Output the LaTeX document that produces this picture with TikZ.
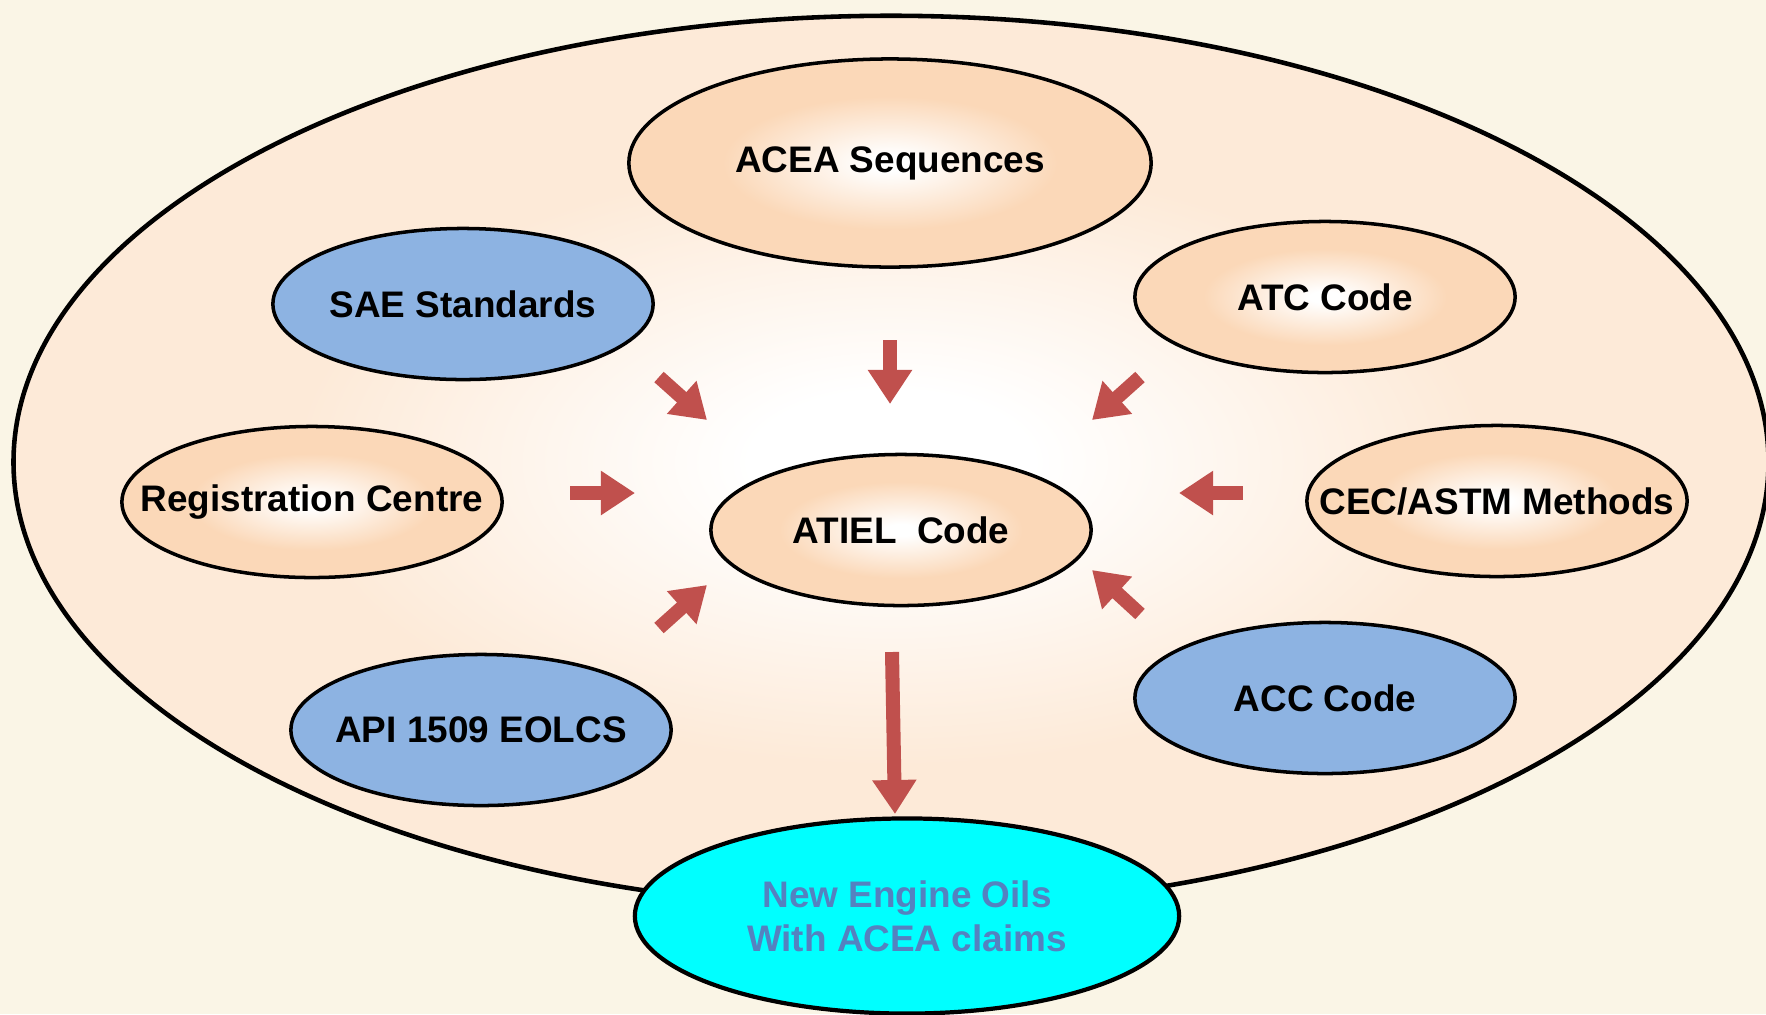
\documentclass[tikz,border=0pt]{standalone}
\usepackage{fontspec}
\setmainfont{Liberation Sans}
\usetikzlibrary{shapes.geometric,arrows.meta}
\definecolor{bgc}{RGB}{250,245,230}
\definecolor{bigedge}{RGB}{253,234,216}
\definecolor{peachedge}{RGB}{251,216,184}
\definecolor{bluefill}{RGB}{141,179,226}
\definecolor{arrowred}{RGB}{192,80,77}
\definecolor{oiltext}{RGB}{84,130,192}
\definecolor{cyanfill}{RGB}{0,255,255}
\pgfdeclareradialshading{bigshade}{\pgfpoint{0bp}{0bp}}{color(0bp)=(white); color(4bp)=(white); color(17bp)=(bigedge); color(50bp)=(bigedge)}
\pgfdeclareradialshading{peachshade}{\pgfpoint{0bp}{0bp}}{color(0bp)=(white); color(2bp)=(white); color(16bp)=(peachedge); color(50bp)=(peachedge)}
\newcommand\zbox[1]{\makebox[0pt]{#1}}
\tikzset{
  txt/.style={font=\fontsize{10.5}{12.6}\selectfont\bfseries},
  oval/.style={ellipse, draw=black, line width=1pt, inner sep=0pt, txt, minimum width=3.8cm, minimum height=1.51cm},
  peach/.style={oval, shading=peachshade},
  blue/.style={oval, fill=bluefill},
  blockarrow/.style={draw=arrowred, line width=0.14cm, -{Triangle[width=0.42cm,length=0.34cm]}, arrowred}
}
\begin{document}
\begin{tikzpicture}[x=0.01cm,y=-0.01cm]
\useasboundingbox (0,0) rectangle (1766,1014);
\clip (0,0) rectangle (1766,1014);
\fill[bgc] (0,0) rectangle (1766,1014);
\node[ellipse, draw=black, line width=1.3pt, shading=bigshade, minimum width=17.54cm, minimum height=8.92cm, inner sep=0pt] (outer) at (891,462) {};
\node[peach, minimum width=5.22cm, minimum height=2.08cm] (acea) at (890,163) {\zbox{ACEA Sequences}};
\node[blue] (sae) at (463,304) {\zbox{SAE Standards}};
\node[peach] (atc) at (1325,297) {\zbox{ATC Code}};
\node[peach] (reg) at (312,502) {\zbox{Registration Centre}};
\node[peach] (atiel) at (901,530) {\zbox{ATIEL\ \ Code}};
\node[peach] (cec) at (1497,501) {\zbox{CEC/ASTM Methods}};
\node[blue] (api) at (481,730) {\zbox{API 1509 EOLCS}};
\node[blue] (acc) at (1325,698) {\zbox{ACC Code}};
\node[ellipse, draw=black, line width=1.2pt, fill=cyanfill, inner sep=0pt, minimum width=5.44cm, minimum height=1.95cm, txt, text=oiltext, align=center] (oil) at (907,916) {New Engine Oils\\With ACEA claims};
% arrow end points
\coordinate (a1s) at (890,340); \coordinate (a1e) at (890,404);
\coordinate (a2s) at (659,377); \coordinate (a2e) at (707,420);
\coordinate (a3s) at (1140,377); \coordinate (a3e) at (1092,420);
\coordinate (a4s) at (570,493); \coordinate (a4e) at (635,493);
\coordinate (a5s) at (1243,493); \coordinate (a5e) at (1179,493);
\coordinate (a6s) at (659,628); \coordinate (a6e) at (707,585);
\coordinate (a7s) at (1140,614); \coordinate (a7e) at (1092,570);
\coordinate (a8s) at (892,652); \coordinate (a8e) at (895,814);
\draw[blockarrow] (a1s) -- (a1e);
\draw[blockarrow] (a2s) -- (a2e);
\draw[blockarrow] (a3s) -- (a3e);
\draw[blockarrow] (a4s) -- (a4e);
\draw[blockarrow] (a5s) -- (a5e);
\draw[blockarrow] (a6s) -- (a6e);
\draw[blockarrow] (a7s) -- (a7e);
\draw[blockarrow] (a8s) -- (a8e);
\end{tikzpicture}
\end{document}
